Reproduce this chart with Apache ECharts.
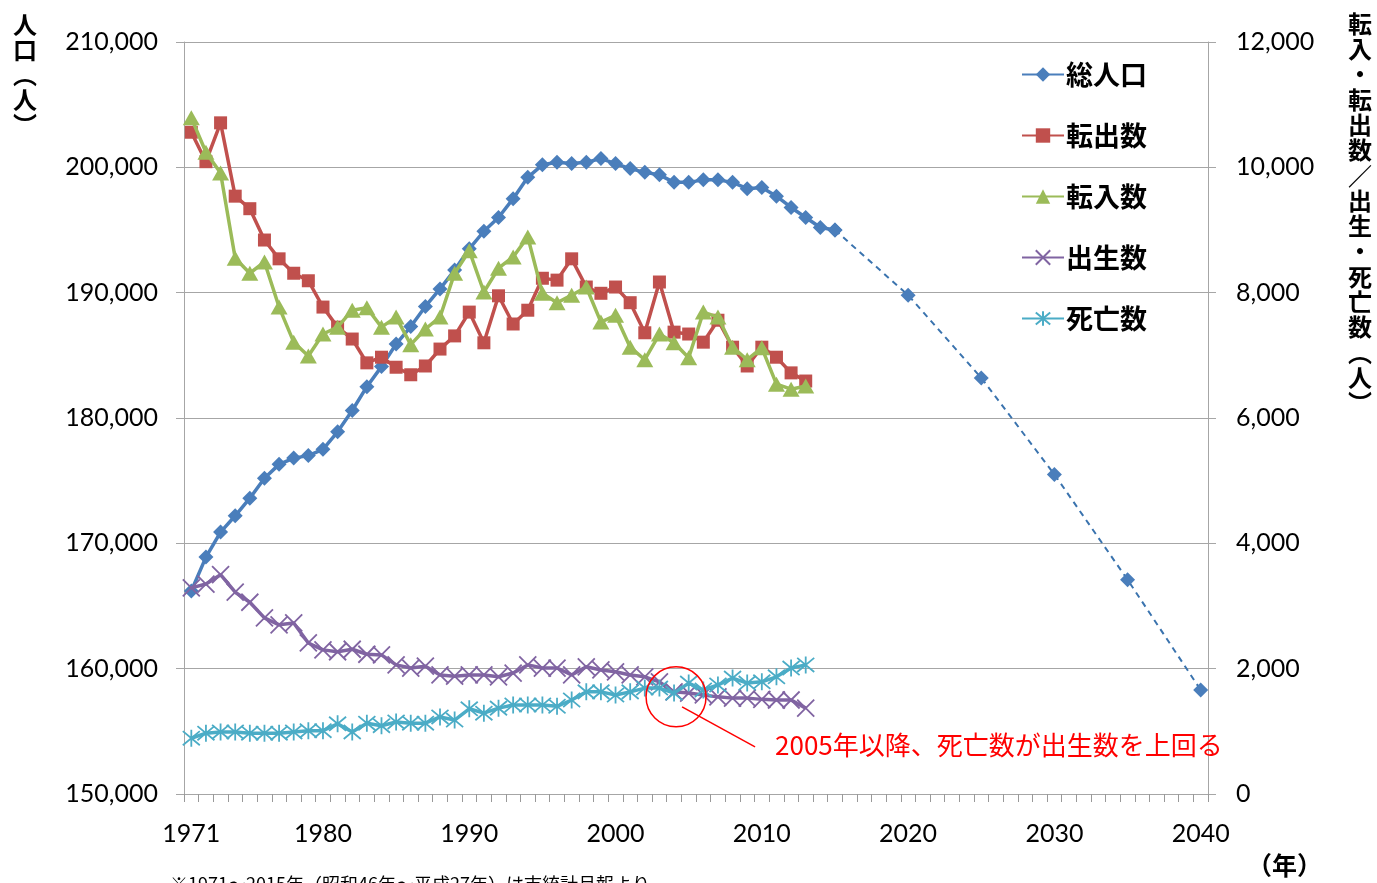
<!DOCTYPE html>
<html>
<head>
<meta charset="utf-8">
<script src="https://cdn.jsdelivr.net/npm/echarts@6/dist/echarts.min.js"></script>
<style>
  html, body { margin: 0; padding: 0; background: #fff; }
  #chart { width: 1377px; height: 883px; }
</style>
</head>
<body>
<div id="chart"></div>
<script>
// 年（1971〜2040）
var years = [];
for (var y = 1971; y <= 2040; y++) years.push(String(y));

// 総人口 1971〜2015（実績）
var popYears = ['1971','1972','1973','1974','1975','1976','1977','1978','1979','1980',
  '1981','1982','1983','1984','1985','1986','1987','1988','1989','1990',
  '1991','1992','1993','1994','1995','1996','1997','1998','1999','2000',
  '2001','2002','2003','2004','2005','2006','2007','2008','2009','2010',
  '2011','2012','2013','2014','2015'];
var population = [166200, 168900, 170900, 172200, 173600, 175200, 176300, 176800, 177000, 177500,
  178900, 180600, 182500, 184100, 185900, 187300, 188900, 190300, 191800, 193500,
  194900, 196000, 197500, 199200, 200200, 200400, 200300, 200400, 200700, 200300,
  199900, 199600, 199400, 198800, 198800, 199000, 199000, 198800, 198300, 198400,
  197700, 196800, 196000, 195200, 195000];

// 総人口 推計（点線）
var projYears = ['2015', '2020', '2025', '2030', '2035', '2040'];
var projection = [195000, 189800, 183200, 175500, 167100, 158300];

// 1971〜2013
var outMoves = [10560, 10090, 10710, 9540, 9340, 8840, 8540, 8310, 8190, 7770,
  7450, 7260, 6880, 6970, 6810, 6690, 6830, 7100, 7310, 7690,
  7200, 7950, 7500, 7720, 8230, 8200, 8540, 8090, 7990, 8090,
  7840, 7360, 8170, 7370, 7340, 7210, 7560, 7130, 6830, 7130,
  6970, 6720, 6590];
var inMoves = [10790, 10240, 9910, 8550, 8310, 8490, 7770, 7210, 6990, 7340,
  7450, 7720, 7760, 7450, 7610, 7170, 7420, 7610, 8310, 8670,
  8010, 8390, 8570, 8890, 7990, 7840, 7960, 8090, 7530, 7640,
  7130, 6930, 7340, 7200, 6960, 7690, 7610, 7130, 6930, 7120,
  6540, 6460, 6510];
var births = [3290, 3350, 3500, 3220, 3060, 2810, 2700, 2730, 2410, 2300,
  2270, 2310, 2230, 2220, 2060, 2010, 2040, 1900, 1880, 1900,
  1900, 1870, 1930, 2060, 2010, 2010, 1900, 2030, 1980, 1950,
  1900, 1870, 1790, 1630, 1610, 1580, 1550, 1530, 1530, 1510,
  1500, 1500, 1370];
var deaths = [890, 970, 990, 990, 970, 970, 970, 990, 1010, 1010,
  1120, 990, 1130, 1090, 1150, 1130, 1130, 1230, 1180, 1360,
  1290, 1370, 1420, 1420, 1420, 1400, 1500, 1630, 1630, 1580,
  1630, 1690, 1690, 1610, 1770, 1660, 1740, 1850, 1770, 1790,
  1870, 2010, 2060];

var leftTicks = { min: 150000, max: 210000, interval: 10000 };
var rightTicks = { min: 0, max: 12000, interval: 2000 };

var numFont = 'Lato, "Liberation Sans", sans-serif';
var jpFont = '"Noto Sans CJK JP", sans-serif';
var gridGray = '#A6A6A6';

var crossPath = 'path://M0,0L10,10M10,0L0,10';
var starPath = 'path://M0,0L10,10M10,0L0,10M5,-1L5,11';

function pairs(cats, vals) {
  return vals.map(function (v, i) { return [cats[i], v]; });
}

var chart = echarts.init(document.getElementById('chart'));

var option = {
  animation: false,
  grid: { left: 184, right: 169, top: 42, bottom: 89, containLabel: false },
  legend: {
    orient: 'vertical',
    left: 1016,
    top: 56,
    itemGap: 34,
    itemWidth: 42,
    itemHeight: 18,
    data: ['総人口', '転出数', '転入数', '出生数', '死亡数'],
    textStyle: { fontFamily: jpFont, fontSize: 27, fontWeight: 'bold', color: '#000', padding: [0, 0, 0, -3] }
  },
  xAxis: {
    type: 'category',
    data: years,
    boundaryGap: true,
    axisLine: { show: true, lineStyle: { color: gridGray, width: 1 } },
    axisTick: { show: true, interval: 0, length: 8, lineStyle: { color: '#999', width: 1 } },
    axisLabel: {
      interval: function (i, v) { return v === '1971' || Number(v) % 10 === 0; },
      fontFamily: numFont, fontSize: 25, color: '#000', margin: 27
    },
    splitLine: { show: false }
  },
  yAxis: [
    {
      type: 'value',
      min: leftTicks.min, max: leftTicks.max, interval: leftTicks.interval,
      axisLine: { show: true, lineStyle: { color: gridGray } },
      axisTick: { show: true, length: 8, lineStyle: { color: gridGray } },
      axisLabel: {
        fontFamily: numFont, fontSize: 25, color: '#000', margin: 26,
        formatter: function (v) { return v.toLocaleString('en-US'); }
      },
      splitLine: { lineStyle: { color: gridGray, width: 1 } }
    },
    {
      type: 'value',
      min: rightTicks.min, max: rightTicks.max, interval: rightTicks.interval,
      axisLine: { show: true, lineStyle: { color: gridGray } },
      axisTick: { show: true, length: 8, lineStyle: { color: gridGray } },
      axisLabel: {
        fontFamily: numFont, fontSize: 25, color: '#000', margin: 28,
        formatter: function (v) { return v.toLocaleString('en-US'); }
      },
      splitLine: { show: false }
    }
  ],
  series: [
    {
      name: '総人口推計',
      type: 'line',
      yAxisIndex: 0,
      data: pairs(projYears, projection),
      symbol: 'diamond',
      symbolSize: 15,
      showAllSymbol: true,
      itemStyle: { color: '#4A7EBB' },
      lineStyle: { color: '#3A73AE', width: 2, type: [6, 5] },
      z: 2
    },
    {
      name: '総人口',
      type: 'line',
      yAxisIndex: 0,
      data: pairs(popYears, population),
      symbol: 'diamond',
      symbolSize: 15,
      showAllSymbol: true,
      itemStyle: { color: '#4A7EBB' },
      lineStyle: { color: '#4A7EBB', width: 3.5 },
      z: 3
    },
    {
      name: '転出数',
      type: 'line',
      yAxisIndex: 1,
      data: outMoves,
      symbol: 'rect',
      symbolSize: 13,
      showAllSymbol: true,
      itemStyle: { color: '#C0504D' },
      lineStyle: { color: '#C0504D', width: 3.5 },
      z: 4
    },
    {
      name: '転入数',
      type: 'line',
      yAxisIndex: 1,
      data: inMoves,
      symbol: 'triangle',
      symbolSize: [17, 15],
      showAllSymbol: true,
      itemStyle: { color: '#9BBB59' },
      lineStyle: { color: '#9BBB59', width: 3.5 },
      z: 5
    },
    {
      name: '出生数',
      type: 'line',
      yAxisIndex: 1,
      data: births,
      symbol: crossPath,
      symbolSize: 17,
      showAllSymbol: true,
      itemStyle: { color: '#8064A2', borderColor: '#8064A2', borderWidth: 1.8 },
      lineStyle: { color: '#8064A2', width: 3.5 },
      z: 6
    },
    {
      name: '死亡数',
      type: 'line',
      yAxisIndex: 1,
      data: deaths,
      symbol: starPath,
      symbolSize: 17,
      showAllSymbol: true,
      itemStyle: { color: '#4BACC6', borderColor: '#4BACC6', borderWidth: 1.8 },
      lineStyle: { color: '#4BACC6', width: 3.5 },
      z: 7
    }
  ]
};

chart.setOption(option);

// 軸名・注記
var circ = chart.convertToPixel({ xAxisIndex: 0, yAxisIndex: 1 }, ['2004', 1550]);

chart.setOption({
  graphic: [
    {
      type: 'text', left: 13, top: 12,
      style: {
        text: ['人', '口', '︵', '人', '︶'].join('\n'),
        font: 'bold 24px "Noto Sans CJK JP"', fill: '#000', lineHeight: 25
      }
    },
    {
      type: 'text', left: 1348, top: 11,
      style: {
        text: ['転', '入', '・', '転', '出', '数', '／', '出', '生', '・', '死', '亡', '数', '︵', '人', '︶'].join('\n'),
        font: 'bold 24px "Noto Sans CJK JP"', fill: '#000', lineHeight: 25.3
      }
    },
    {
      type: 'text', left: 1247, top: 853,
      style: { text: '（年）', font: 'bold 25px "Noto Sans CJK JP"', fill: '#000' }
    },
    {
      type: 'text', left: 170, top: 875,
      style: { text: '※1971～2015年（昭和46年～平成27年）は市統計月報より', font: '18px "Noto Sans CJK JP"', fill: '#000' }
    },
    {
      type: 'circle',
      shape: { cx: circ[0] + 2, cy: circ[1], r: 30 },
      style: { fill: 'none', stroke: '#FF0000', lineWidth: 1.5 },
      z: 100
    },
    {
      type: 'line',
      shape: { x1: circ[0] + 8, y1: circ[1] + 10, x2: circ[0] + 81, y2: circ[1] + 50 },
      style: { stroke: '#FF0000', lineWidth: 1.5 },
      z: 100
    },
    {
      type: 'text', left: circ[0] + 101, top: circ[1] + 35,
      style: { text: '2005年以降、死亡数が出生数を上回る', font: '26px ' + jpFont, fill: '#FF0000' },
      z: 100
    }
  ]
});
</script>
</body>
</html>
